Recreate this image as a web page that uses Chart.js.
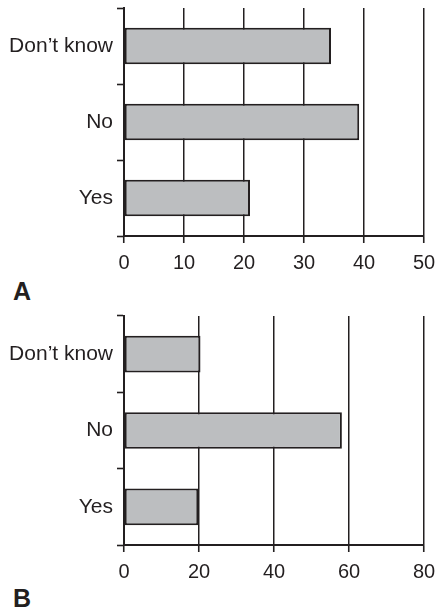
<!DOCTYPE html>
<html>
<head>
<meta charset="utf-8">
<script src="https://cdn.jsdelivr.net/npm/chart.js@4"></script>
<style>
  html, body { margin: 0; padding: 0; background: #ffffff; }
  body { width: 436px; height: 612px; position: relative; overflow: hidden; }
  .panel { position: absolute; left: 0; width: 436px; }
  .tag { position: absolute; left: 13px; font: bold 25px "Liberation Sans", Arial, sans-serif; line-height: 25px; color: #231f20; }
</style>
</head>
<body>
<div class="panel" id="boxA" style="top:0px;height:275px;"><canvas id="chartA"></canvas></div>
<div class="tag" style="top:279px;">A</div>
<div class="panel" id="boxB" style="top:308px;height:276px;"><canvas id="chartB"></canvas></div>
<div class="tag" style="top:586px;">B</div>
<script>
// Answer categories, listed top to bottom
const categories = ["Don\u2019t know", "No", "Yes"];

// Panel A values and axis range
const valuesA = [34.5, 39.2, 21.0];
const ticksA = [0, 10, 20, 30, 40, 50];

// Panel B values and axis range
const valuesB = [20.4, 58.1, 19.8];
const ticksB = [0, 20, 40, 60, 80];

const INK = "#231f20";
const FILL = "#bcbec0";

function makeChart(canvasId, values, ticks, topPad) {
  const step = ticks[1] - ticks[0];
  return new Chart(document.getElementById(canvasId), {
    type: "bar",
    data: {
      labels: categories,
      datasets: [{
        data: values,
        backgroundColor: FILL,
        borderColor: INK,
        borderWidth: 2,
        borderSkipped: false,
        barPercentage: 0.48,
        categoryPercentage: 1
      }]
    },
    options: {
      indexAxis: "y",
      responsive: true,
      maintainAspectRatio: false,
      animation: false,
      events: [],
      layout: { padding: { top: topPad, right: 12, left: 0, bottom: 0 } },
      plugins: { legend: { display: false }, tooltip: { enabled: false } },
      scales: {
        x: {
          min: ticks[0],
          max: ticks[ticks.length - 1],
          afterBuildTicks: (scale) => { scale.ticks = ticks.map(v => ({ value: v })); },
          afterFit: (scale) => { scale.height = 39; scale.paddingLeft = 0; scale.paddingRight = 0; },
          ticks: {
            stepSize: step,
            color: INK,
            padding: 8,
            font: { family: "Liberation Sans", size: 20 }
          },
          grid: {
            color: INK,
            lineWidth: 1.5,
            drawOnChartArea: true,
            drawTicks: true,
            tickLength: 7,
            tickColor: INK,
            tickWidth: 1.6
          },
          border: { display: true, color: INK, width: 2 }
        },
        y: {
          afterFit: (scale) => { scale.width = 124; scale.paddingTop = 0; scale.paddingBottom = 0; },
          ticks: {
            color: INK,
            padding: 4,
            font: { family: "Liberation Sans", size: 21 }
          },
          grid: {
            offset: true,
            drawOnChartArea: false,
            drawTicks: true,
            tickLength: 7,
            color: INK,
            tickColor: INK,
            tickWidth: 1.6
          },
          border: { display: true, color: INK, width: 2 }
        }
      }
    }
  });
}

makeChart("chartA", valuesA, ticksA, 8);
makeChart("chartB", valuesB, ticksB, 8);
</script>
</body>
</html>
